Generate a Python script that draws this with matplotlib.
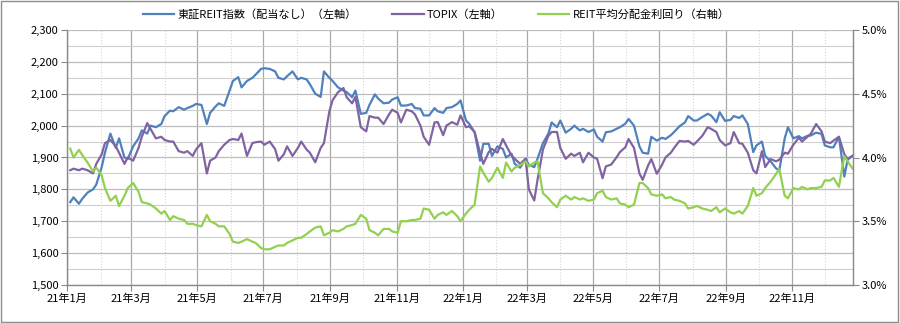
import matplotlib
matplotlib.use("Agg")
import matplotlib.pyplot as plt
import matplotlib.dates as mdates
from matplotlib.patches import Rectangle
from matplotlib.ticker import FuncFormatter, MultipleLocator
import pandas as pd

plt.rcParams["font.family"] = ["Noto Sans CJK JP", "DejaVu Sans"]

# every third business day, Jan 2021 - Dec 2022
dates = pd.bdate_range("2021-01-04", "2022-12-27", freq="3B")

# 東証REIT指数 (配当なし), left axis
reit = [
    1760, 1775, 1755, 1770, 1790, 1800, 1815, 1870, 1915, 1975,
    1930, 1960, 1900, 1895, 1935, 1960, 1985, 1975, 2000, 1995,
    2005, 2030, 2047, 2045, 2058, 2050, 2055, 2062, 2068, 2065,
    2005, 2040, 2060, 2070, 2062, 2110, 2140, 2152, 2120, 2140,
    2150, 2160, 2178, 2180, 2178, 2170, 2150, 2145, 2155, 2170,
    2145, 2150, 2145, 2130, 2100, 2090, 2170, 2150, 2140, 2120,
    2110, 2105, 2089, 2110, 2037, 2040, 2065, 2098, 2085, 2070,
    2072, 2082, 2089, 2063, 2063, 2068, 2055, 2053, 2032, 2032,
    2055, 2045, 2040, 2055, 2058, 2068, 2079, 2016, 2006, 1979,
    1890, 1943, 1943, 1905, 1935, 1927, 1900, 1912, 1880, 1868,
    1896, 1877, 1870, 1896, 1945, 1975, 2010, 1995, 2016, 1978,
    1990, 2000, 1985, 1990, 1980, 1988, 1965, 1950, 1979, 1982,
    1990, 1995, 2006, 2021, 2000, 1935, 1915, 1912, 1965, 1953,
    1962, 1958, 1970, 1980, 1998, 2010, 2030, 2016, 2016, 2027,
    2037, 2032, 2011, 2042, 2015, 2018, 2030, 2024, 2032, 2005,
    1917, 1938, 1950, 1905, 1888, 1866, 1859, 1960, 1995, 1960,
    1967, 1960, 1968, 1969, 1978, 1974, 1938, 1932, 1932, 1965,
    1840, 1893, 1906,
]

# TOPIX, left axis
topix = [
    1860, 1865, 1860, 1865, 1860, 1850, 1880, 1910, 1945, 1955,
    1935, 1915, 1880, 1900, 1890, 1930, 1965, 2008, 1990, 1960,
    1965, 1955, 1950, 1950, 1920, 1915, 1920, 1905, 1925, 1945,
    1850, 1890, 1900, 1920, 1940, 1955, 1958, 1955, 1975, 1905,
    1945, 1948, 1950, 1940, 1950, 1926, 1890, 1910, 1935, 1905,
    1930, 1950, 1925, 1915, 1885, 1930, 1945, 2045, 2080, 2105,
    2118, 2089, 2070, 2090, 1995, 1982, 2030, 2025, 2025, 2005,
    2035, 2050, 2040, 2010, 2050, 2045, 2035, 2000, 1965, 1940,
    2010, 2011, 1970, 2000, 2011, 2003, 2032, 1995, 1998, 1980,
    1915, 1880, 1917, 1927, 1915, 1958, 1938, 1906, 1896, 1880,
    1896, 1800, 1765, 1830, 1925, 1968, 1980, 1980, 1930, 1896,
    1912, 1905, 1915, 1885, 1915, 1900, 1896, 1835, 1872, 1878,
    1901, 1917, 1932, 1958, 1930, 1850, 1830, 1875, 1895, 1849,
    1878, 1900, 1915, 1930, 1952, 1950, 1952, 1940, 1950, 1968,
    1995, 1990, 1980, 1955, 1938, 1945, 1980, 1945, 1943, 1915,
    1860, 1850, 1920, 1870, 1895, 1888, 1893, 1915, 1912, 1940,
    1962, 1950, 1965, 1974, 2005, 1982, 1950, 1945, 1953, 1965,
    1910, 1896, 1906,
]

# REIT平均分配金利回り (%), right axis
reit_yield = [
    4.07, 4.00, 4.06, 4.02, 3.96, 3.89, 3.92, 3.86, 3.76, 3.66,
    3.70, 3.62, 3.70, 3.76, 3.80, 3.73, 3.65, 3.64, 3.63, 3.60,
    3.56, 3.58, 3.51, 3.54, 3.52, 3.51, 3.48, 3.48, 3.47, 3.46,
    3.55, 3.50, 3.48, 3.46, 3.46, 3.40, 3.34, 3.33, 3.34, 3.36,
    3.34, 3.33, 3.29, 3.28, 3.28, 3.30, 3.31, 3.31, 3.33, 3.35,
    3.37, 3.37, 3.40, 3.42, 3.45, 3.46, 3.39, 3.41, 3.43, 3.42,
    3.44, 3.46, 3.47, 3.48, 3.55, 3.52, 3.43, 3.41, 3.39, 3.44,
    3.44, 3.42, 3.41, 3.50, 3.50, 3.51, 3.51, 3.52, 3.60, 3.59,
    3.52, 3.55, 3.57, 3.55, 3.58, 3.54, 3.50, 3.56, 3.59, 3.63,
    3.93, 3.88, 3.81, 3.84, 3.92, 3.84, 3.96, 3.89, 3.92, 3.94,
    3.97, 3.93, 3.96, 3.97, 3.72, 3.68, 3.65, 3.61, 3.67, 3.70,
    3.67, 3.69, 3.67, 3.68, 3.66, 3.67, 3.72, 3.74, 3.69, 3.67,
    3.68, 3.64, 3.63, 3.61, 3.63, 3.80, 3.80, 3.76, 3.71, 3.70,
    3.71, 3.68, 3.69, 3.67, 3.66, 3.64, 3.60, 3.61, 3.62, 3.60,
    3.59, 3.58, 3.61, 3.57, 3.60, 3.57, 3.56, 3.58, 3.56, 3.62,
    3.76, 3.70, 3.72, 3.76, 3.81, 3.87, 3.91, 3.70, 3.68, 3.76,
    3.75, 3.77, 3.75, 3.76, 3.76, 3.77, 3.82, 3.82, 3.84, 3.77,
    4.01, 3.97, 3.91,
]

labels = ["東証REIT指数（配当なし）（左軸）", "TOPIX（左軸）", "REIT平均分配金利回り（右軸）"]
colors = ["#4F81BD", "#8064A2", "#92D050"]

fig = plt.figure(figsize=(9, 3.23), dpi=100)
ax = fig.add_axes([67 / 900, 1 - 285 / 323, (853 - 67) / 900, (285 - 30) / 323])
ax2 = ax.twinx()

l1, = ax.plot(dates, reit, color=colors[0], lw=1.6)
l2, = ax.plot(dates, topix, color=colors[1], lw=1.6)
l3, = ax2.plot(dates, reit_yield, color=colors[2], lw=1.6)

ax.set_xlim(pd.Timestamp("2021-01-01"), dates[-1])
ax.set_ylim(1500, 2300)
ax2.set_ylim(3.0, 5.0)

ax.yaxis.set_major_locator(MultipleLocator(100))
ax.yaxis.set_minor_locator(MultipleLocator(50))
ax.yaxis.set_major_formatter(FuncFormatter(lambda v, p: f"{v:,.0f}"))
ax2.yaxis.set_major_locator(MultipleLocator(0.5))
ax2.yaxis.set_major_formatter(FuncFormatter(lambda v, p: f"{v:.1f}%"))

ax.xaxis.set_major_locator(mdates.MonthLocator(bymonth=[1, 3, 5, 7, 9, 11]))
ax.xaxis.set_minor_locator(mdates.MonthLocator())
ax.xaxis.set_major_formatter(
    FuncFormatter(lambda v, p: f"{mdates.num2date(v).year % 100}年{mdates.num2date(v).month}月"))

ax.grid(which="major", axis="y", color="#bdbdbd", lw=0.9)
ax.grid(which="minor", axis="y", color="#cfcfcf", lw=0.8)
ax.grid(which="major", axis="x", color="#a8a8a8", lw=0.9)
ax.grid(which="minor", axis="x", color="#d4d4d4", lw=0.8, ls=":")
ax.set_axisbelow(True)

for a in (ax, ax2):
    for side in ("top", "left", "right", "bottom"):
        a.spines[side].set_visible(False)
ax.spines["left"].set_visible(True)
ax.spines["bottom"].set_visible(True)
ax2.spines["right"].set_visible(True)
for sp in (ax.spines["left"], ax.spines["bottom"], ax2.spines["right"]):
    sp.set_color("#888888")
    sp.set_linewidth(1.0)

ax.tick_params(axis="y", which="major", length=4, color="#888888", labelsize=8, pad=2)
ax.tick_params(axis="y", which="minor", length=0)
ax.tick_params(axis="x", which="major", length=4, color="#888888", labelsize=8, pad=2)
ax.tick_params(axis="x", which="minor", length=0)
ax2.tick_params(axis="y", which="major", length=4, color="#888888", labelsize=8, pad=2)

fig.legend([l1, l2, l3], labels, loc="center", bbox_to_anchor=(0.485, 1 - 15 / 323),
           ncol=3, frameon=False, fontsize=8, handlelength=2.8, handletextpad=0.3,
           columnspacing=3.2)

fig.patches.append(Rectangle((0.001, 0.002), 0.997, 0.995, transform=fig.transFigure,
                             fill=False, ec="#8c8c8c", lw=1.0))

fig.savefig("out.png", dpi=100)
